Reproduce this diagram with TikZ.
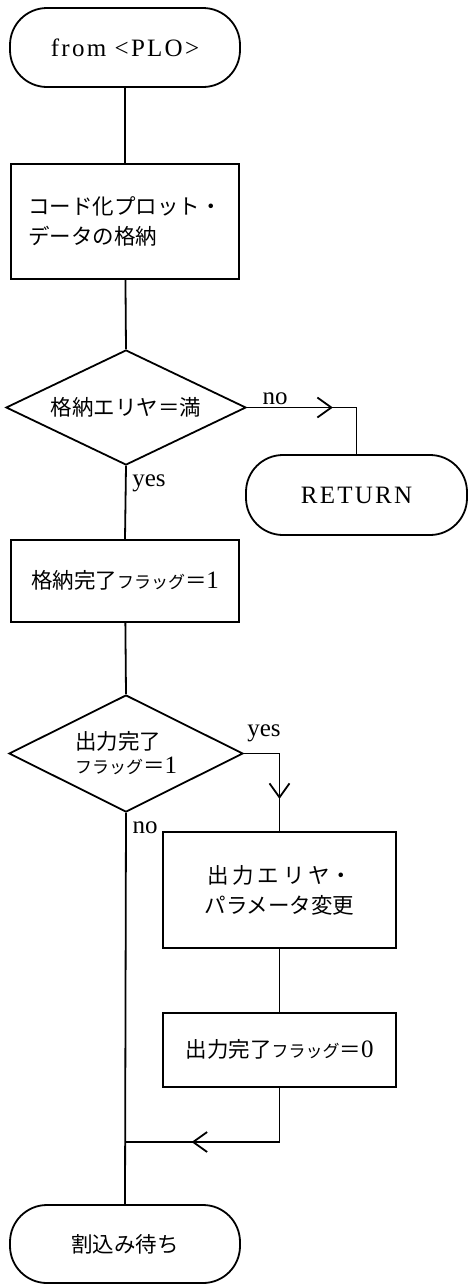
\documentclass[tikz,border=0pt]{standalone}
\usepackage{fontspec}
\setmainfont{Liberation Serif}
\newfontfamily\jp{Noto Sans CJK JP}
\usetikzlibrary{shapes.geometric,arrows.meta,decorations.markings}
\newcommand{\jsz}{\fontsize{21.5pt}{30pt}\selectfont}
\newcommand{\ksm}[1]{{\fontsize{17pt}{17pt}\selectfont #1}}
\newcommand{\dig}[1]{{\rmfamily\fontsize{25pt}{25pt}\selectfont #1}}
\newcommand{\ltr}{\fontsize{25pt}{28pt}\selectfont\addfontfeatures{LetterSpace=9}}
\begin{document}
\begin{tikzpicture}[x=1pt,y=-1pt,
  term/.style={draw, line width=1.8pt, rectangle, rounded corners=37pt, inner sep=0pt},
  procbox/.style={draw, line width=1.8pt, rectangle, inner sep=0pt, font=\jp\jsz, align=center},
  decide/.style={draw, line width=1.8pt, diamond, inner sep=0pt, aspect=2, font=\jp\jsz, align=left},
  lbl/.style={font=\fontsize{25pt}{26pt}\selectfont, inner sep=0pt},
  flow/.style={draw, line width=1.8pt},
  midarrow/.style={postaction={decorate}, decoration={markings, mark=at position #1 with {\arrow{Straight Barb[length=14pt,width=20pt,line width=1.8pt]}}}}]
\useasboundingbox (0,0) rectangle (468,1286);

\node[term, minimum width=230pt, minimum height=79pt] (start) at (125,47.5) {\ltr from <PLO>};
\node[procbox, minimum width=228pt, minimum height=115pt, align=left] (box1) at (125,221.5)
  {コード化プロット・\\データの格納};
\node[decide, minimum width=240pt, minimum height=115pt] (d1) at (126,407.5) {格納エリヤ＝満};
\node[term, minimum width=221pt, minimum height=80pt] (ret) at (356.5,495) {\ltr RETURN};
\node[procbox, minimum width=228pt, minimum height=82pt] (box2) at (125,581)
  {\raisebox{3pt}{格納完了\ksm{フラッグ}＝\dig{1}}};
\node[decide, minimum width=234pt, minimum height=117pt] (d2) at (126,753.5)
  {出力完了\\[-6pt]\ksm{フラッグ}＝\dig{1}};
\node[procbox, minimum width=233pt, minimum height=116pt] (box3) at (279.5,890)
  {出\hspace{4pt}力\hspace{4pt}エ\hspace{4pt}リ\hspace{4pt}ヤ・\\パラメータ変更};
\node[procbox, minimum width=233pt, minimum height=74pt] (box4) at (279.5,1050)
  {\raisebox{3pt}{出力完了\ksm{フラッグ}＝\dig{0}}};
\node[term, minimum width=230pt, minimum height=78pt, font=\jp\jsz] (end) at (125,1244) {割込み待ち};
\coordinate (join) at (126,1142);

\node[lbl] (lno1) at (275,399) {no};
\node[lbl] (lyes1) at (149,483) {yes};
\node[lbl] (lyes2) at (264,733) {yes};
\node[lbl] (lno2) at (145,828) {no};

\path[flow] (start) -- (box1);
\path[flow] (box1) -- (d1.north);
\path[flow, midarrow=86pt] (d1.east) -| (ret.north);
\path[flow] (d1.south) -- (box2.north);
\path[flow] (box2) -- (d2.north);
\path[flow, midarrow=81pt] (d2.east) -| (box3.north);
\path[flow] (box3) -- (box4);
\path[flow, midarrow=142pt] (box4.south) |- (join);
\path[flow] (d2.south) -- (end.north);
\end{tikzpicture}
\end{document}
